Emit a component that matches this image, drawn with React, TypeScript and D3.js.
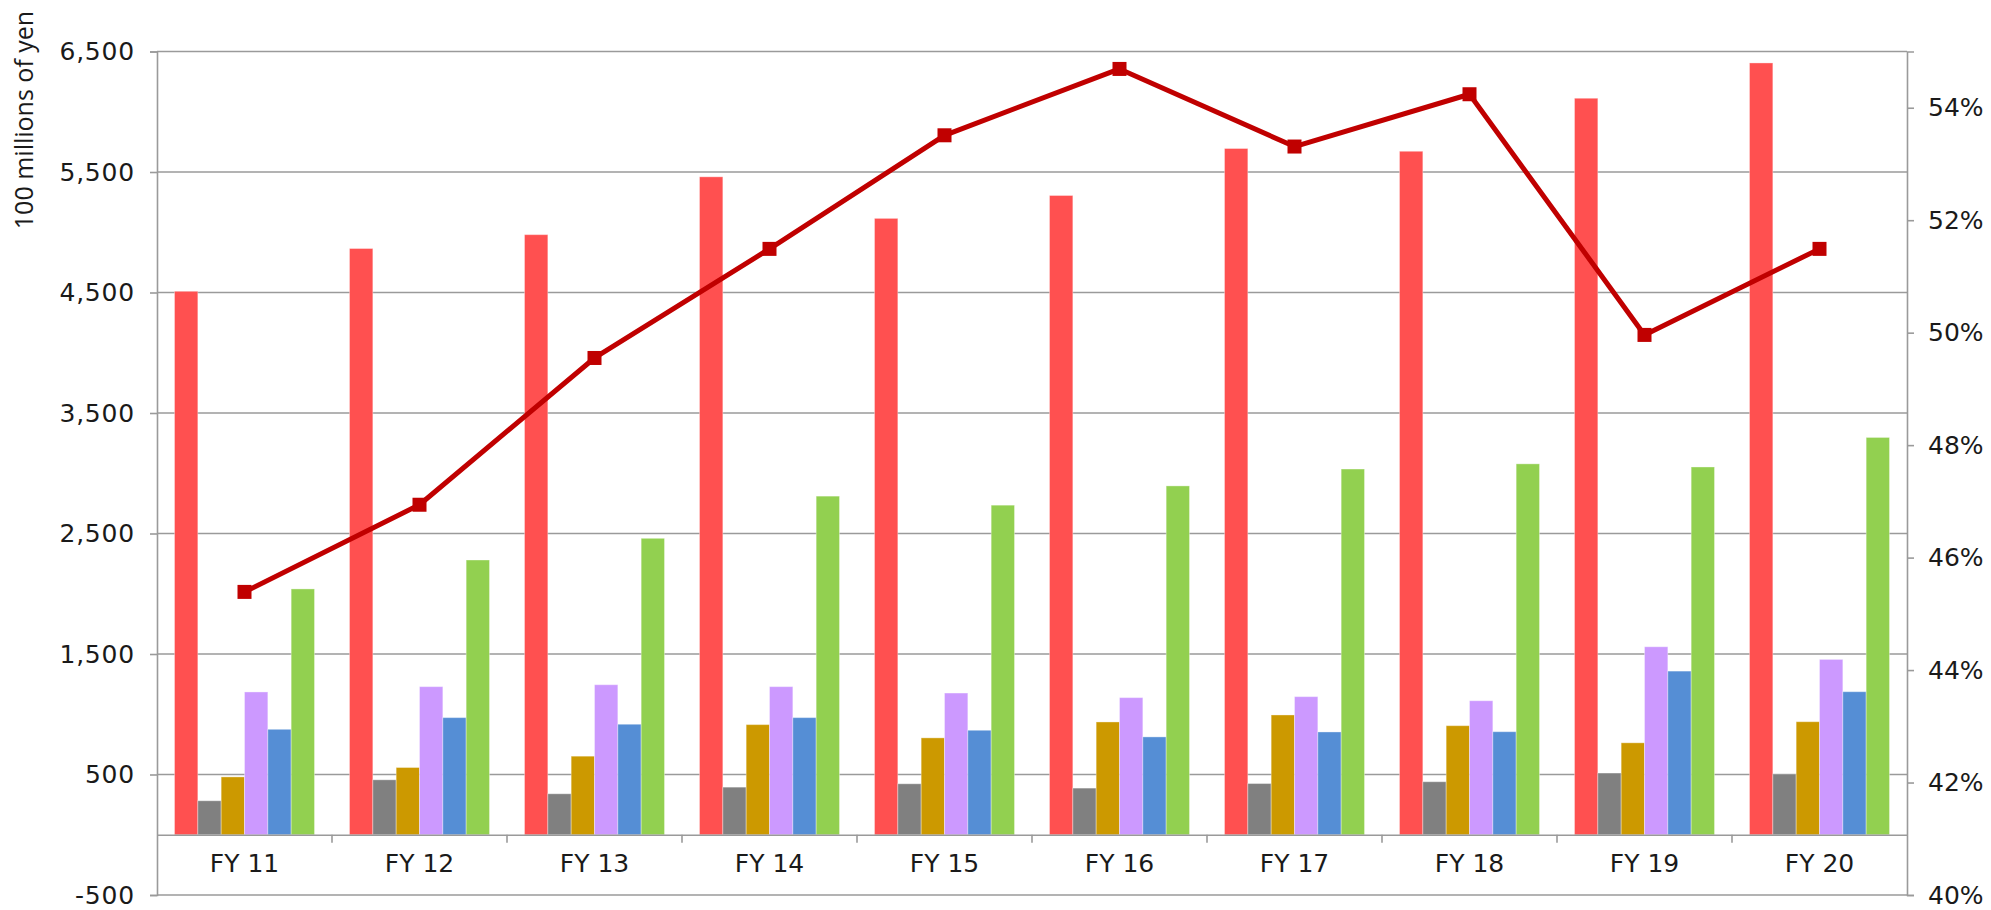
import { useRef, useEffect } from 'react';
import * as d3 from 'd3';

const categories = ['FY 11', 'FY 12', 'FY 13', 'FY 14', 'FY 15', 'FY 16', 'FY 17', 'FY 18', 'FY 19', 'FY 20'];

// bar series, 100 millions of yen
const redBars = [4510, 4865, 4980, 5460, 5115, 5305, 5695, 5672, 6112, 6405];
const greyBars = [282, 456, 340, 395, 423, 387, 425, 440, 512, 504];
const goldBars = [480, 558, 652, 914, 804, 936, 994, 905, 763, 938];
const purpleBars = [1185, 1229, 1245, 1229, 1176, 1138, 1146, 1112, 1560, 1455];
const blueBars = [875, 972, 917, 972, 867, 812, 853, 855, 1358, 1187];
const greenBars = [2040, 2280, 2460, 2810, 2735, 2895, 3035, 3078, 3052, 3297];

// line series, right axis (%)
const ratioLine = [45.39, 46.94, 49.55, 51.49, 53.51, 54.69, 53.31, 54.24, 49.96, 51.49];

const leftTicks = [-500, 500, 1500, 2500, 3500, 4500, 5500, 6500];
const rightTicks = [40, 42, 44, 46, 48, 50, 52, 54];

const SERIES = [
  { values: redBars, color: '#FF5050' },
  { values: greyBars, color: '#808080' },
  { values: goldBars, color: '#CC9900' },
  { values: purpleBars, color: '#CC99FF' },
  { values: blueBars, color: '#558ED5' },
  { values: greenBars, color: '#92D050' },
];

const WIDTH = 1991;
const HEIGHT = 910;
const MARGIN = { top: 51.5, right: 84, bottom: 15, left: 157 };
const GRID = '#9a9a9a';
const FONT = '"DejaVu Sans", Verdana, sans-serif';

// plain hyphen for negatives, like the original
const fmt = d3.formatLocale({ decimal: '.', thousands: ',', grouping: [3], currency: ['', ''], minus: '-' }).format(',');

export default function App() {
  const svgRef = useRef<SVGSVGElement>(null);

  useEffect(() => {
    if (!svgRef.current) return;
    const svg = d3.select(svgRef.current);
    svg.selectAll('*').remove();

    const innerWidth = WIDTH - MARGIN.left - MARGIN.right;
    const innerHeight = HEIGHT - MARGIN.top - MARGIN.bottom;

    const g = svg.append('g').attr('transform', `translate(${MARGIN.left},${MARGIN.top})`);

    const x = d3.scaleBand<string>().domain(categories).range([0, innerWidth]).paddingInner(0.2).paddingOuter(0.1);
    const xOuter = d3.scaleBand<string>().domain(categories).range([0, innerWidth]).padding(0);
    const xInner = d3.scaleBand<number>().domain(d3.range(SERIES.length)).range([0, x.bandwidth()]);

    const y = d3.scaleLinear().domain([-500, 6500]).range([innerHeight, 0]);
    const y2 = d3.scaleLinear().domain([40, 55]).range([innerHeight, 0]);

    // gridlines
    g.append('g')
      .selectAll('line')
      .data(leftTicks)
      .join('line')
      .attr('x1', 0)
      .attr('x2', innerWidth)
      .attr('y1', (d) => y(d))
      .attr('y2', (d) => y(d))
      .attr('stroke', GRID)
      .attr('stroke-width', 1.6);

    // left axis
    const left = g.append('g').call(d3.axisLeft(y).tickValues(leftTicks).tickSize(7).tickPadding(15).tickFormat(fmt as any));
    left.select('.domain').attr('stroke', GRID).attr('stroke-width', 1.6);
    left.selectAll('.tick line').attr('stroke', GRID).attr('stroke-width', 1.6);
    left.selectAll('text')
      .attr('font-family', FONT)
      .attr('font-size', '25px')
      .attr('letter-spacing', '0.8px')
      .attr('fill', '#1a1a1a');

    // right axis
    const right = g.append('g')
      .attr('transform', `translate(${innerWidth},0)`)
      .call(d3.axisRight(y2).tickValues(rightTicks).tickSize(7).tickPadding(14).tickFormat((d) => `${d}%`));
    right.select('.domain').attr('stroke', GRID).attr('stroke-width', 1.6);
    right.selectAll('.tick line').attr('stroke', GRID).attr('stroke-width', 1.6);
    right.selectAll('text')
      .attr('font-family', FONT)
      .attr('font-size', '25px')
      .attr('fill', '#1a1a1a');

    // bars
    SERIES.forEach((s, i) => {
      g.append('g')
        .selectAll('rect')
        .data(s.values)
        .join('rect')
        .attr('x', (_, j) => (x(categories[j]) ?? 0) + (xInner(i) ?? 0))
        .attr('width', xInner.bandwidth())
        .attr('y', (d) => y(d))
        .attr('height', (d) => y(0) - y(d))
        .attr('fill', s.color)
        .attr('stroke', 'rgba(255,255,255,0.35)')
        .attr('stroke-width', 1);
    });

    // category axis at zero
    const bottom = g.append('g')
      .attr('transform', `translate(0,${y(0)})`)
      .call(d3.axisBottom(xOuter).tickSize(0).tickPadding(19));
    bottom.select('.domain').attr('stroke', GRID).attr('stroke-width', 1.6);
    bottom.selectAll('text')
      .attr('font-family', FONT)
      .attr('font-size', '25px')
      .attr('fill', '#1a1a1a');
    bottom.append('g')
      .selectAll('line')
      .data(categories.slice(1))
      .join('line')
      .attr('x1', (d) => xOuter(d) ?? 0)
      .attr('x2', (d) => xOuter(d) ?? 0)
      .attr('y1', 0)
      .attr('y2', 8)
      .attr('stroke', GRID)
      .attr('stroke-width', 1.6);

    // ratio line
    const cx = (i: number) => (xOuter(categories[i]) ?? 0) + xOuter.bandwidth() / 2;
    const line = d3.line<number>()
      .x((_, i) => cx(i))
      .y((d) => y2(d));

    g.append('path')
      .datum(ratioLine)
      .attr('fill', 'none')
      .attr('stroke', '#C00000')
      .attr('stroke-width', 5)
      .attr('stroke-linejoin', 'round')
      .attr('d', line);

    g.selectAll('rect.marker')
      .data(ratioLine)
      .join('rect')
      .attr('class', 'marker')
      .attr('x', (_, i) => cx(i) - 7)
      .attr('y', (d) => y2(d) - 7)
      .attr('width', 14)
      .attr('height', 14)
      .attr('fill', '#C00000');

    // y axis title
    svg.append('text')
      .attr('transform', 'rotate(-90)')
      .attr('x', -120)
      .attr('y', 33)
      .attr('text-anchor', 'middle')
      .attr('font-family', '"Open Sans", "Noto Sans", sans-serif')
      .attr('font-size', '25px')
      .attr('fill', '#1a1a1a')
      .text('100 millions of yen');
  }, []);

  return (
    <svg
      ref={svgRef}
      width={WIDTH}
      height={HEIGHT}
      style={{ position: 'absolute', left: 0, top: 0, background: '#fff' }}
    />
  );
}
